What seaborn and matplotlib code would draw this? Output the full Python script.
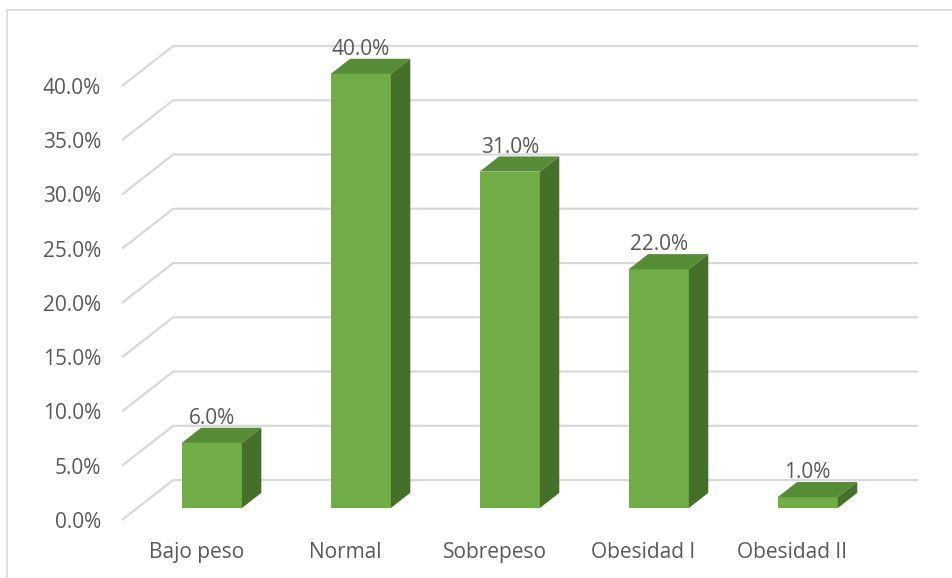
import matplotlib
matplotlib.use('Agg')
import matplotlib.pyplot as plt
import seaborn as sns
from matplotlib.patches import Polygon, Rectangle

# ===== datos =====
categorias = ['Bajo peso', 'Normal', 'Sobrepeso', 'Obesidad I', 'Obesidad II']
porcentajes = [6.0, 40.0, 31.0, 22.0, 1.0]
marcas_y = [0, 5, 10, 15, 20, 25, 30, 35, 40]

# ===== estilo =====
sns.set_style('white')
plt.rcParams['font.family'] = ['Open Sans', 'DejaVu Sans']
gris_texto = '#595959'
gris_rejilla = '#d9d9d9'
verde = '#70AD47'
verde_arriba = '#568C35'
verde_lado = '#466F2A'

# perspectiva oblicua (unidades de datos)
PROF_X = 0.343   # desplazamiento total de profundidad en x (categorías)
PROF_Y = 3.68    # desplazamiento total de profundidad en y (%)
D_FRENTE = 0.30  # posición de la cara frontal de la barra
D_BARRA = 0.38   # profundidad de la barra
ANCHO = 0.404

fig = plt.figure(figsize=(9.53, 5.78), dpi=100)
ax = fig.add_axes([122 / 953, 58 / 578, 796 / 953, 474 / 578])

# borde exterior del gráfico
fig.patches.append(Rectangle((7 / 953, -0.05), 1.0, (578 - 10) / 578 + 0.05,
                             transform=fig.transFigure, fill=False,
                             edgecolor=gris_rejilla, linewidth=1.2))

# líneas de rejilla (pared lateral + pared del fondo)
for v in marcas_y:
    ax.plot([-0.5, -0.5 + PROF_X, 4.5 + PROF_X], [v, v + PROF_Y, v + PROF_Y],
            color=gris_rejilla, linewidth=1.6, zorder=1, clip_on=False,
            solid_capstyle='butt')

# caras frontales con seaborn
sns.barplot(x=categorias, y=porcentajes, order=categorias, color=verde,
            saturation=1, width=ANCHO, ax=ax, zorder=3)

fx = D_FRENTE * PROF_X
fy = D_FRENTE * PROF_Y
bx = D_BARRA * PROF_X
by = D_BARRA * PROF_Y
for p, v in zip(ax.patches, porcentajes):
    p.set_x(p.get_x() + fx)
    p.set_y(fy)
    p.set_linewidth(0)
    x0 = p.get_x()
    x1 = x0 + p.get_width()
    top = fy + v
    # cara superior
    ax.add_patch(Polygon([(x0, top), (x1, top), (x1 + bx, top + by), (x0 + bx, top + by)],
                         closed=True, facecolor=verde_arriba, edgecolor='none', zorder=4))
    # cara lateral
    ax.add_patch(Polygon([(x1, fy), (x1 + bx, fy + by), (x1 + bx, top + by), (x1, top)],
                         closed=True, facecolor=verde_lado, edgecolor='none', zorder=4))
    # etiqueta
    ax.text((x0 + x1) / 2, top + by - 0.1, f'{v:.1f}%', ha='center', va='bottom',
            fontsize=15, color=gris_texto, zorder=5)

ax.set_xlim(-0.5, 4.5 + PROF_X)
ax.set_ylim(0, 40 + PROF_Y)
ax.set_yticks(marcas_y)
ax.set_yticklabels([f'{v:.1f}%' for v in marcas_y])
ax.set_xticks(range(len(categorias)))
ax.set_xticklabels(categorias)
ax.tick_params(axis='y', length=0, pad=15, labelsize=15, labelcolor=gris_texto)
ax.tick_params(axis='x', length=0, pad=16, labelsize=15, labelcolor=gris_texto)
ax.set_xlabel('')
ax.set_ylabel('')
for s in ax.spines.values():
    s.set_visible(False)
ax.patch.set_alpha(0)

fig.savefig('out.png', dpi=100)
